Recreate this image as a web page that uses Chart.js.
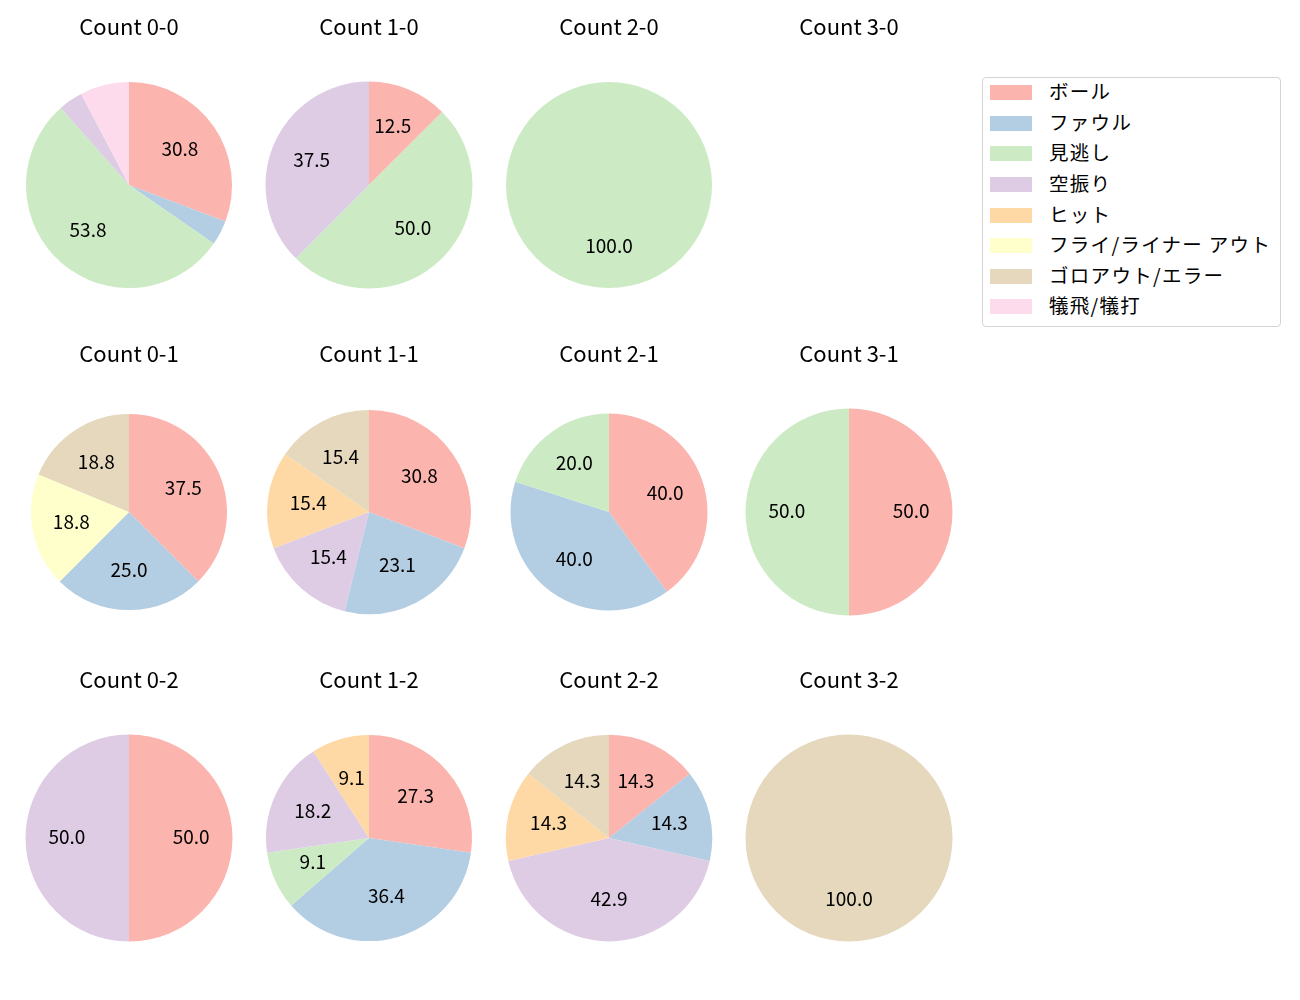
<!DOCTYPE html>
<html>
<head>
<meta charset="utf-8">
<script src="https://cdn.jsdelivr.net/npm/chart.js@4.4.1/dist/chart.umd.min.js"></script>
<style>
  body { margin: 0; background: #fff; }
  #wrap { position: relative; width: 1300px; height: 1000px; background: #fff; font-family: "Noto Sans CJK JP", sans-serif; }
  #wrap canvas { position: absolute; }
  #legend { position: absolute; left: 982px; top: 77px; width: 297px; height: 248px;
            border: 1px solid #d4d4d4; border-radius: 4px; background: #fff; }
  .row { position: absolute; left: 0; height: 20px; }
  .patch { position: absolute; left: 7px; top: 3px; width: 42px; height: 15px; }
  .txt { position: absolute; left: 66px; top: -5px; font-size: 19.5px; letter-spacing: 1.3px; color: #000; white-space: nowrap; line-height: 28px; }
</style>
</head>
<body>
<div id="wrap"><div id="legend"></div></div>
<script>
// カテゴリと色 (matplotlib Pastel1)
const categories = ['ボール', 'ファウル', '見逃し', '空振り', 'ヒット', 'フライ/ライナー アウト', 'ゴロアウト/エラー', '犠飛/犠打'];
const colors = ['#fbb4ae', '#b3cde3', '#ccebc5', '#decbe4', '#fed9a6', '#ffffcc', '#e5d8bd', '#fddaec'];

// 各カウントの球数 (categories の順)
const count00 = [8, 1, 14, 1, 0, 0, 0, 2];
const count10 = [1, 0, 4, 3, 0, 0, 0, 0];
const count20 = [0, 0, 1, 0, 0, 0, 0, 0];
const count30 = [0, 0, 0, 0, 0, 0, 0, 0];
const count01 = [6, 4, 0, 0, 0, 3, 3, 0];
const count11 = [4, 3, 0, 2, 2, 0, 2, 0];
const count21 = [2, 2, 1, 0, 0, 0, 0, 0];
const count31 = [1, 0, 1, 0, 0, 0, 0, 0];
const count02 = [1, 0, 0, 1, 0, 0, 0, 0];
const count12 = [3, 4, 1, 2, 1, 0, 0, 0];
const count22 = [1, 1, 0, 3, 1, 0, 1, 0];
const count32 = [0, 0, 0, 0, 0, 0, 1, 0];

const titles = ['Count 0-0', 'Count 1-0', 'Count 2-0', 'Count 3-0',
                'Count 0-1', 'Count 1-1', 'Count 2-1', 'Count 3-1',
                'Count 0-2', 'Count 1-2', 'Count 2-2', 'Count 3-2'];
const values = [count00, count10, count20, count30,
                count01, count11, count21, count31,
                count02, count12, count22, count32];

// 見た目の半径 (元図で少しずつ違う)
const radii = [103, 103.5, 103, 103, 98, 102, 98.5, 103.5, 103.5, 103, 103.3, 103.5];
const minPct = 8;

let $d = document,
    wrap = $d.getElementById('wrap'),
    myChart = [];

// 円グラフの中に % を書くプラグイン
const pctLabels = {
    id: 'pctLabels',
    afterDatasetsDraw(chart) {
        const ctx = chart.ctx;
        const data = chart.data.datasets[0].data;
        const total = data.reduce((a, b) => a + b, 0);
        if (!total) return;
        const arcs = chart.getDatasetMeta(0).data;
        ctx.save();
        ctx.font = '19px "Noto Sans CJK JP"';
        ctx.fillStyle = '#000';
        ctx.textAlign = 'center';
        ctx.textBaseline = 'middle';
        arcs.forEach((arc, i) => {
            const pct = data[i] / total * 100;
            if (pct < minPct) return;
            const mid = (arc.startAngle + arc.endAngle) / 2;
            const r = arc.outerRadius * 0.6;
            ctx.fillText(pct.toFixed(1), arc.x + Math.cos(mid) * r, arc.y + Math.sin(mid) * r - 1.5);
        });
        ctx.restore();
    }
};

const createPie = (index) => {
    let col = index % 4,
        row = Math.floor(index / 4),
        cx = 129 + col * 240,
        cy = 185 + row * 326.5,
        $canvas = $d.createElement('canvas');
    $canvas.width = 240;
    $canvas.height = 320;
    $canvas.style.width = '240px';
    $canvas.style.height = '320px';
    $canvas.style.left = (cx - 120) + 'px';
    $canvas.style.top = (cy - 175) + 'px';
    wrap.appendChild($canvas);

    const chart = new Chart($canvas.getContext('2d'), {
        type: 'pie',
        data: {
            labels: categories,
            datasets: [{
                data: values[index],
                backgroundColor: colors,
                borderWidth: 0,
                hoverOffset: 0,
                radius: radii[index]
            }]
        },
        options: {
            responsive: false,
            animation: false,
            layout: { padding: { top: 0, bottom: 10, left: 0, right: 0 } },
            plugins: {
                legend: { display: false },
                tooltip: { enabled: false },
                title: {
                    display: true,
                    text: titles[index],
                    color: '#000',
                    font: { family: '"Noto Sans CJK JP"', size: 22, weight: 'normal', lineHeight: 1.2 },
                    padding: { top: 3.5, bottom: 10.3 }
                }
            }
        },
        plugins: [pctLabels]
    });
    myChart.push(chart);
};

for (let i = 0; i < titles.length; i++) {
    createPie(i);
}

// 凡例
const legend = $d.getElementById('legend');
categories.forEach((name, i) => {
    let $row = $d.createElement('div'),
        $patch = $d.createElement('div'),
        $txt = $d.createElement('div');
    $row.className = 'row';
    $row.style.top = (14.2 + 30.6 * i - 10) + 'px';
    $patch.className = 'patch';
    $patch.style.background = colors[i];
    $txt.className = 'txt';
    $txt.textContent = name;
    $row.appendChild($patch);
    $row.appendChild($txt);
    legend.appendChild($row);
});
</script>
</body>
</html>
